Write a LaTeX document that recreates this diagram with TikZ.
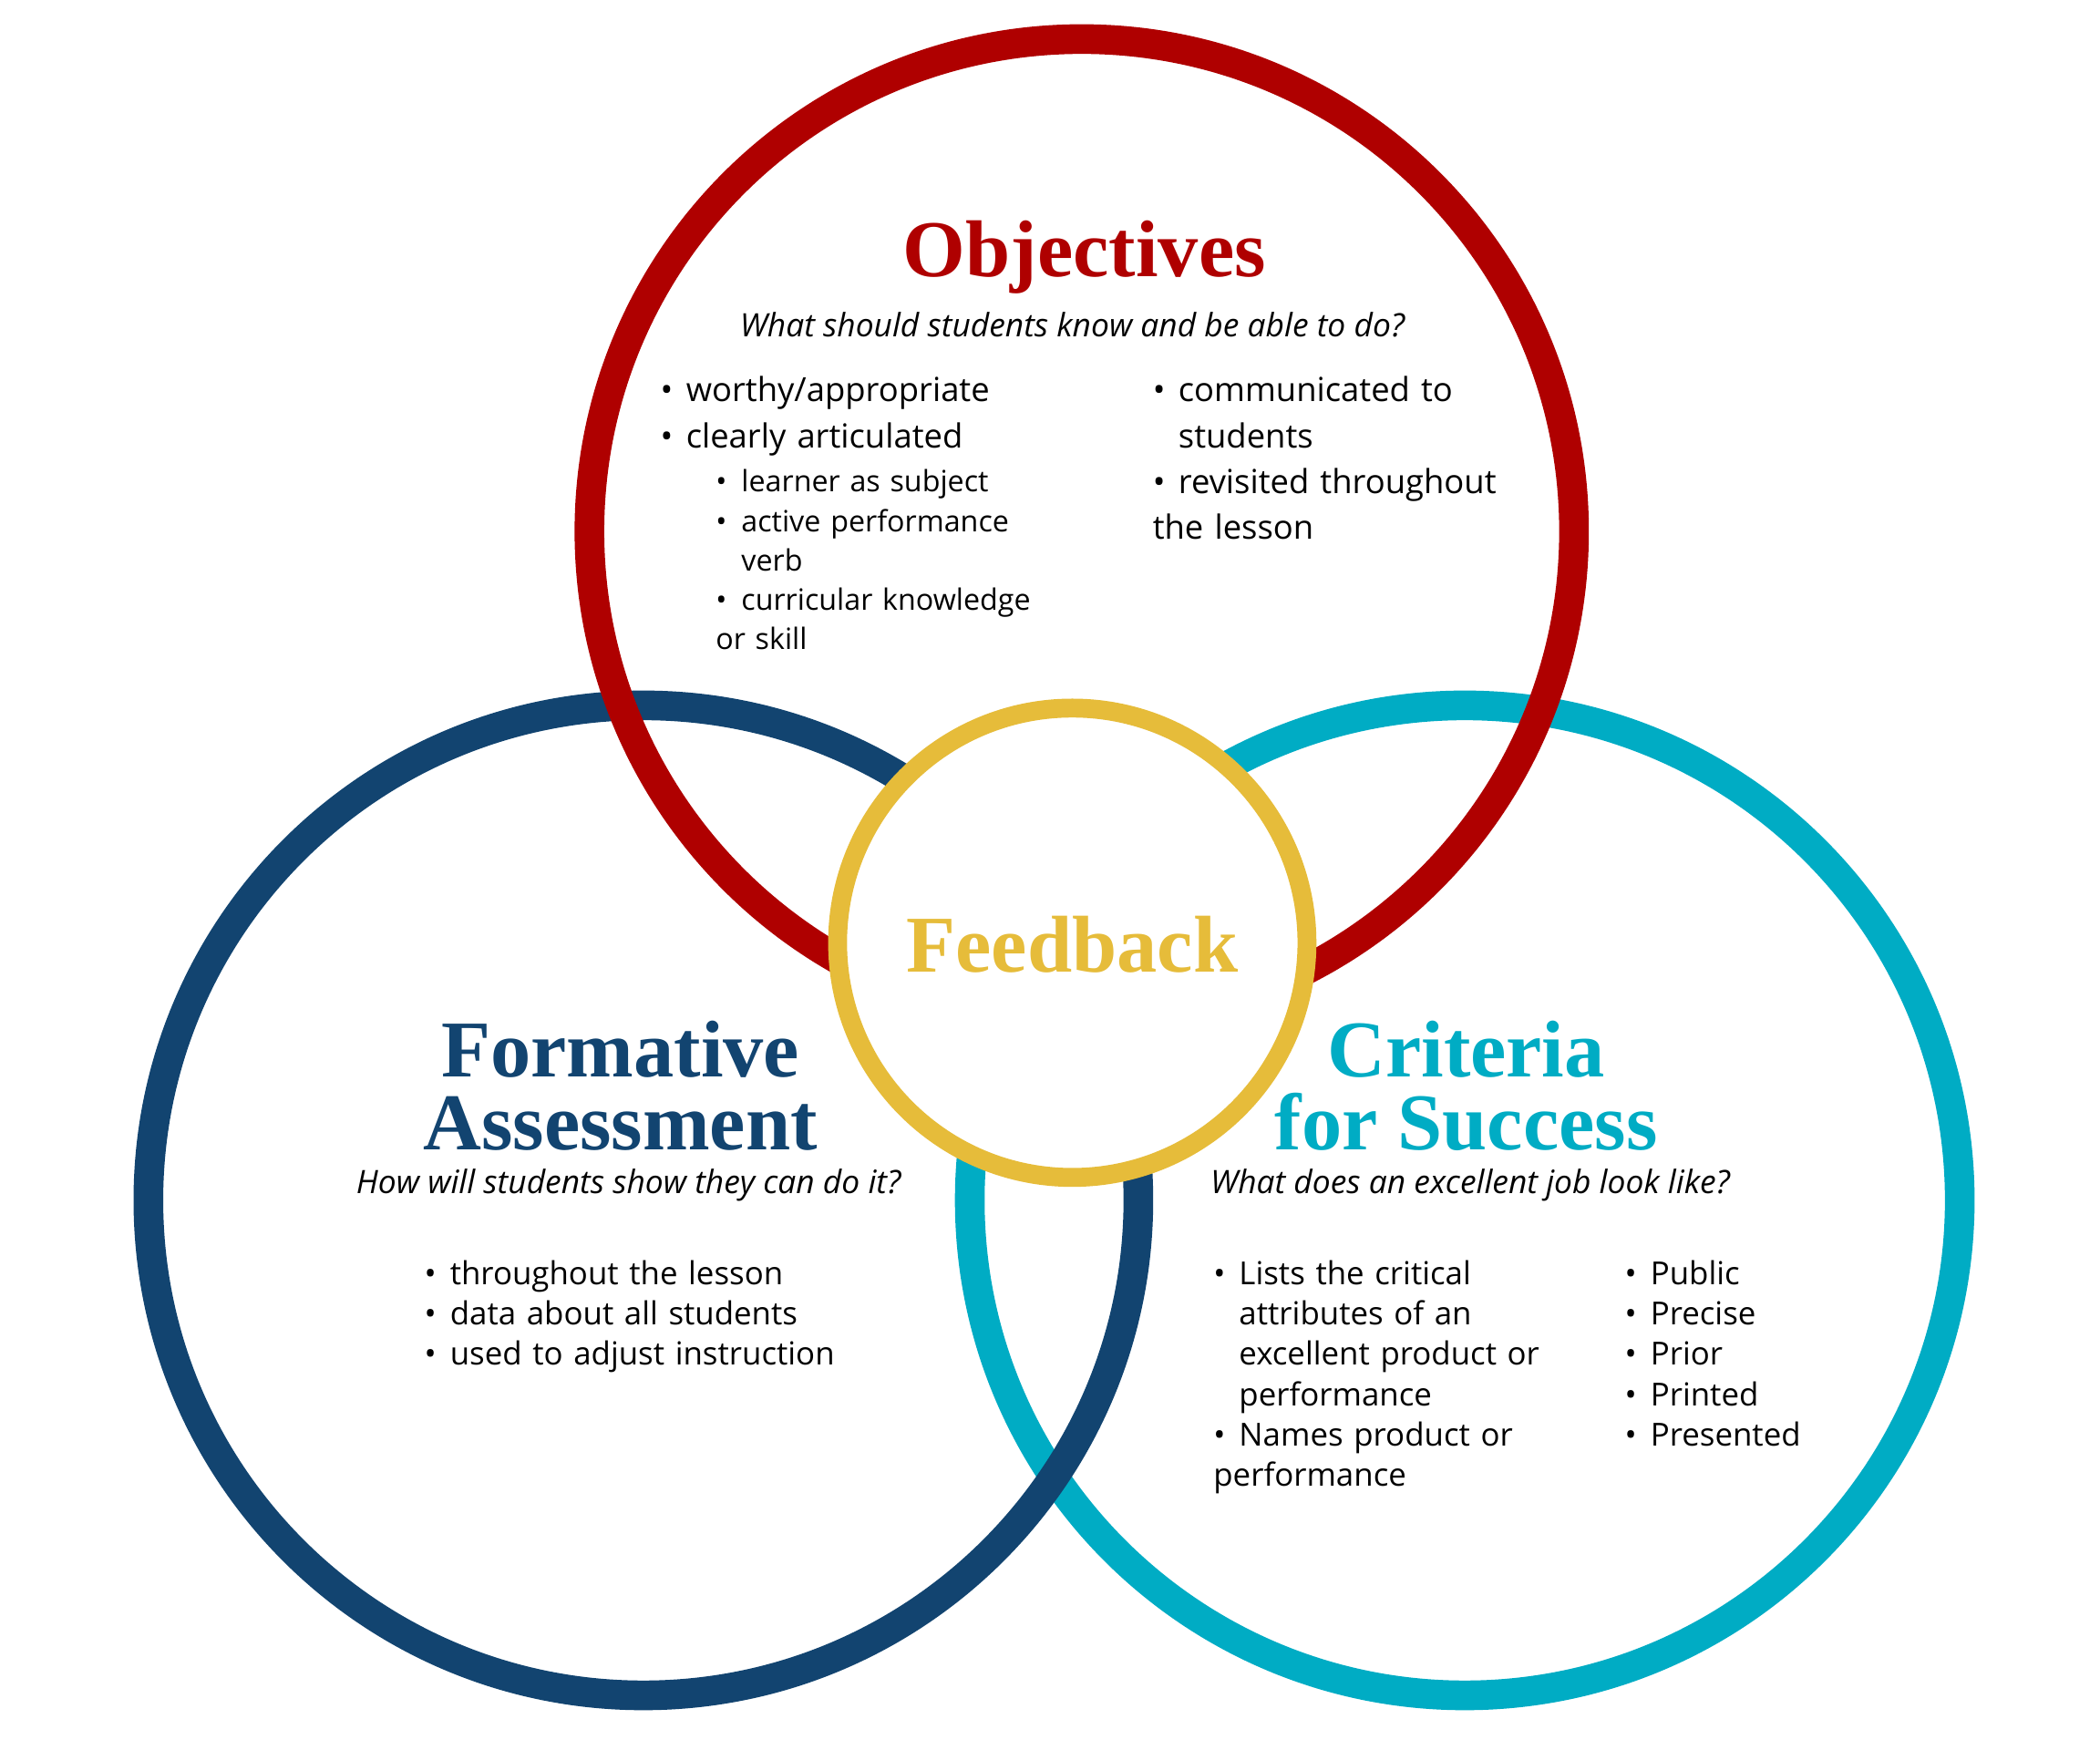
\documentclass[tikz,border=0pt]{standalone}
\usepackage{fontspec}
\setmainfont{Open Sans}
\newfontfamily\headfont{Liberation Serif}
\definecolor{objred}{RGB}{175,0,0}
\definecolor{formblue}{RGB}{18,68,112}
\definecolor{critteal}{RGB}{0,172,196}
\definecolor{feedgold}{RGB}{230,188,58}
\newcommand{\blt}[1]{\par\hangindent=0.19cm\hangafter=1\noindent\makebox[0.19cm][l]{\textbullet}#1}
\newcommand{\nl}{\hfill\break}

\begin{document}
\begin{tikzpicture}

%
% Styles
%
\tikzstyle{ring} = [line width=0.22cm]
\tikzstyle{heading} = [font=\headfont\bfseries\fontsize{17}{15.5}\selectfont,align=center]
\tikzstyle{question} = [font=\itshape\fontsize{6.8}{8}\selectfont]
\tikzstyle{items} = [anchor=north west,inner sep=0pt,text width=#1,font=\fontsize{7}{9.7}\selectfont]
\tikzstyle{subitems} = [anchor=north west,inner sep=0pt,text width=#1,font=\fontsize{6.2}{8.3}\selectfont]

\useasboundingbox (0,0) rectangle (15.57,12.97);

% circles
\draw[ring,critteal] (10.86,4.07) circle (3.67);
\draw[ring,formblue] (4.77,4.07) circle (3.67);
\draw[ring,objred] (8.02,9.03) circle (3.65);
\draw[line width=0.14cm,feedgold,fill=white] (7.95,5.98) circle (1.74);

% objectives
\node[heading,objred] (objT) at (8.04,11.06) {Objectives};
\node[question] (objQ) at (7.95,10.56) {What should students know and be able to do?};
\node[items=3.2cm] (objL) at (4.89,10.34) {\blt{worthy/appropriate}\blt{clearly articulated}};
\node[subitems=2.8cm] (objS) at (5.30,9.62) {\blt{learner as subject}\blt{active performance\nl verb}\blt{curricular knowledge\nl or skill}};
\node[items=3.2cm] (objR) at (8.54,10.34) {\blt{communicated to\nl students}\blt{revisited throughout\nl the lesson}};

% feedback
\node[heading,feedgold] (feed) at (7.95,5.97) {Feedback};

% formative assessment
\node[heading,formblue] (formT) at (4.60,4.92) {Formative\\Assessment};
\node[question] (formQ) at (4.66,4.18) {How will students show they can do it?};
\node[items=3.6cm,font=\fontsize{6.7}{8.5}\selectfont] (formL) at (3.14,3.75) {\blt{throughout the lesson}\blt{data about all students}\blt{used to adjust instruction}};

% criteria for success
\node[heading,critteal] (critT) at (10.87,4.92) {Criteria\\for Success};
\node[question] (critQ) at (10.90,4.18) {What does an excellent job look like?};
\node[items=3cm,font=\fontsize{6.7}{8.5}\selectfont] (critL) at (8.99,3.75) {\blt{Lists the critical\nl attributes of an\nl excellent product or\nl performance}\blt{Names product or\nl performance}};
\node[items=2cm,font=\fontsize{6.7}{8.5}\selectfont] (critR) at (12.04,3.75) {\blt{Public}\blt{Precise}\blt{Prior}\blt{Printed}\blt{Presented}};

\end{tikzpicture}
\end{document}
